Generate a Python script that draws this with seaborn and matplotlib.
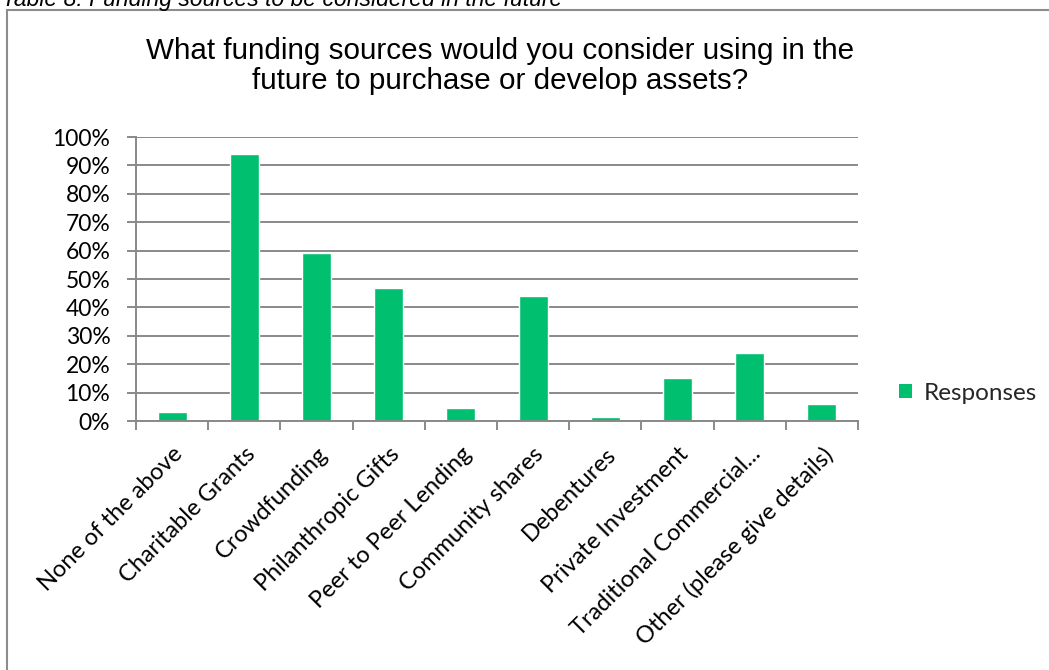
import matplotlib
matplotlib.use("Agg")
import matplotlib.pyplot as plt
import seaborn as sns
import pandas as pd
from matplotlib.ticker import PercentFormatter, FixedLocator, NullFormatter
from matplotlib.lines import Line2D
from matplotlib.patches import Patch

categories = ["None of the above", "Charitable Grants", "Crowdfunding",
              "Philanthropic Gifts", "Peer to Peer Lending", "Community shares",
              "Debentures", "Private Investment", "Traditional Commercial...",
              "Other (please give details)"]
values = [0.03, 0.94, 0.59, 0.47, 0.045, 0.44, 0.013, 0.15, 0.24, 0.06]
series_name = "Responses"
title = "What funding sources would you consider using in the\nfuture to purchase or develop assets?"
caption = "Table 8: Funding sources to be considered in the future"

GREEN = "#00BF6F"
GRID = "#898989"

sns.set_theme(style="white")
plt.rcParams["font.family"] = ["Lato", "DejaVu Sans"]

df = pd.DataFrame({"category": categories, "value": values, "series": series_name})

W, H = 1049, 670
fig = plt.figure(figsize=(W / 100, H / 100), dpi=100)
ax = fig.add_axes([136 / W, 1 - 421 / H, (858 - 136) / W, (421 - 137) / H])

sns.barplot(data=df, x="category", y="value", hue="series", palette=[GREEN],
            width=0.4, ax=ax, legend=False, saturation=1)

ax.set_xlim(-0.5, len(categories) - 0.5)
ax.set_ylim(0, 1.0)
ax.yaxis.set_major_locator(FixedLocator([i / 10 for i in range(11)]))
ax.yaxis.set_major_formatter(PercentFormatter(1.0, decimals=0))
ax.grid(axis="y", color=GRID, linewidth=1.4)
ax.set_axisbelow(True)
ax.set_xlabel("")
ax.set_ylabel("")

for s in ["top", "right"]:
    ax.spines[s].set_visible(False)
for s in ["left", "bottom"]:
    ax.spines[s].set_color(GRID)
    ax.spines[s].set_linewidth(1.4)

ax.tick_params(axis="y", which="major", left=True, length=6.5, width=1.4,
               color=GRID, pad=12, labelsize=16.5, labelcolor="black")
ax.set_xticks(range(len(categories)))
ax.set_xticklabels(categories, rotation=45, ha="right", rotation_mode="anchor",
                   fontsize=17, color="black")
ax.tick_params(axis="x", which="major", bottom=False, length=0, pad=16)
ax.set_xticks([i - 0.5 for i in range(len(categories) + 1)], minor=True)
ax.tick_params(axis="x", which="minor", bottom=True, length=6.5, width=1.4,
               color=GRID)
ax.xaxis.set_minor_formatter(NullFormatter())
for lbl in ax.get_xticklabels():
    x0 = lbl.get_position()[0]
    lbl.set_x(x0 - 0.06)

handle = Patch(facecolor=GREEN, edgecolor="none")
fig.legend([handle], [series_name], loc="center left",
           bbox_to_anchor=(899 / W, 1 - 393 / H), frameon=False,
           fontsize=17.5, handlelength=0.55, handleheight=0.55, handletextpad=0.45,
           borderaxespad=0, borderpad=0)

fig.text(500 / W, 1 - 66 / H, title, ha="center", va="center", fontsize=21.3,
         family=["Liberation Sans", "DejaVu Sans"], linespacing=1.1,
         color="black")

fig.text(2 / W, 1 - 6 / H, caption, ha="left", va="baseline", fontsize=16.5,
         family=["Liberation Sans", "DejaVu Sans"], style="italic",
         color="black")

fig.add_artist(Line2D([6.5 / W, 6.5 / W], [0, 1 - 10 / H], color="#8c8c8c",
                      linewidth=1.5, transform=fig.transFigure))
fig.add_artist(Line2D([6.5 / W, 1], [1 - 10 / H, 1 - 10 / H], color="#8c8c8c",
                      linewidth=1.5, transform=fig.transFigure))

fig.savefig("out.png", dpi=100, facecolor="white")
